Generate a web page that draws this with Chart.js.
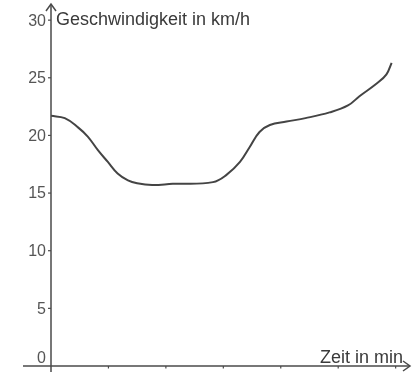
<!DOCTYPE html>
<html>
<head>
<meta charset="utf-8">
<script src="https://cdn.jsdelivr.net/npm/chart.js@4"></script>
<style>
  html, body { margin: 0; padding: 0; background: #fff; }
  #wrap { width: 414px; height: 372px; }
</style>
</head>
<body>
<div id="wrap"><canvas id="speed-chart" width="414" height="372"></canvas></div>
<script>
// time axis in tick units, speed in km/h
var timeValues = [0, 0.24, 0.47, 0.64, 0.82, 0.99, 1.16, 1.34, 1.5, 1.76, 2.12, 2.82, 3.06, 3.29, 3.46, 3.63, 3.81, 4.1, 4.43, 4.85, 5.17, 5.37, 5.67, 5.84, 5.93];
var speedValues = [21.7, 21.5, 20.7, 19.9, 18.7, 17.7, 16.7, 16.1, 15.85, 15.7, 15.8, 15.95, 16.6, 17.7, 19.0, 20.3, 20.9, 21.2, 21.5, 22.0, 22.6, 23.4, 24.5, 25.3, 26.3];
var timeTicks = [1, 2, 3, 4, 5, 6];
var speedTicks = [0, 5, 10, 15, 20, 25, 30];

var yTitle = "Geschwindigkeit in km/h";
var xTitle = "Zeit in min";

var points = timeValues.map(function (t, i) {
  return { x: t, y: speedValues[i] };
});

var axisColor = "#4a4a4a";
var labelFont = "16px 'Liberation Sans', Arial, sans-serif";
var titleFont = "18px 'Liberation Sans', Arial, sans-serif";

// axes with arrow heads, tick marks and labels
var axesPlugin = {
  id: "axesPlugin",
  afterDraw: function (chart) {
    var ctx = chart.ctx;
    var xs = chart.scales.x;
    var ys = chart.scales.y;
    var x0 = xs.getPixelForValue(0);
    var y0 = ys.getPixelForValue(0);
    var top = chart.chartArea.top;
    var right = chart.chartArea.right;

    ctx.save();
    ctx.strokeStyle = axisColor;
    ctx.lineWidth = 1.5;

    // y axis
    ctx.beginPath();
    ctx.moveTo(x0, chart.height);
    ctx.lineTo(x0, top);
    ctx.stroke();
    ctx.beginPath();
    ctx.moveTo(x0 - 5, top + 7);
    ctx.lineTo(x0, top);
    ctx.lineTo(x0 + 5, top + 7);
    ctx.stroke();

    // x axis
    ctx.beginPath();
    ctx.moveTo(23, y0);
    ctx.lineTo(right, y0);
    ctx.stroke();
    ctx.beginPath();
    ctx.moveTo(right - 7, y0 - 5);
    ctx.lineTo(right, y0);
    ctx.lineTo(right - 7, y0 + 5);
    ctx.stroke();

    // tick marks
    ctx.lineWidth = 1.2;
    speedTicks.forEach(function (v) {
      if (v === 0) return;
      var py = ys.getPixelForValue(v);
      ctx.beginPath();
      ctx.moveTo(x0 - 3, py);
      ctx.lineTo(x0, py);
      ctx.stroke();
    });
    timeTicks.forEach(function (v) {
      var px = xs.getPixelForValue(v);
      ctx.beginPath();
      ctx.moveTo(px, y0);
      ctx.lineTo(px, y0 + 2.5);
      ctx.stroke();
    });

    // y tick labels
    ctx.fillStyle = "#555";
    ctx.font = labelFont;
    ctx.textAlign = "right";
    ctx.textBaseline = "middle";
    speedTicks.forEach(function (v) {
      var py = ys.getPixelForValue(v);
      if (v === 0) py -= 8;
      ctx.fillText(String(v), x0 - 5, py + 1);
    });

    // axis titles
    ctx.fillStyle = "#3a3a3a";
    ctx.font = titleFont;
    ctx.textAlign = "left";
    ctx.textBaseline = "alphabetic";
    ctx.fillText(yTitle, x0 + 5, 25);
    ctx.textAlign = "right";
    ctx.fillText(xTitle, 403, y0 - 3);
    ctx.restore();
  },
};

var ctx = document.getElementById("speed-chart").getContext("2d");
var speedChart = new Chart(ctx, {
  type: "line",
  data: {
    datasets: [
      {
        data: points,
        borderColor: "#444",
        borderWidth: 2,
        pointRadius: 0,
        fill: false,
        tension: 0.4,
      },
    ],
  },
  options: {
    responsive: false,
    animation: false,
    layout: { padding: { top: 4, right: 4, left: 0, bottom: 0 } },
    plugins: {
      legend: { display: false },
      tooltip: { enabled: false },
    },
    scales: {
      x: {
        type: "linear",
        min: 0,
        max: 6.25,
        grid: { display: false },
        border: { display: false },
        ticks: { display: false },
        afterFit: function (scale) {
          scale.height = 6;
        },
      },
      y: {
        min: 0,
        max: 31.4,
        grid: { display: false },
        border: { display: false },
        ticks: { display: false },
        afterFit: function (scale) {
          scale.width = 51;
        },
      },
    },
  },
  plugins: [axesPlugin],
});
</script>
</body>
</html>
